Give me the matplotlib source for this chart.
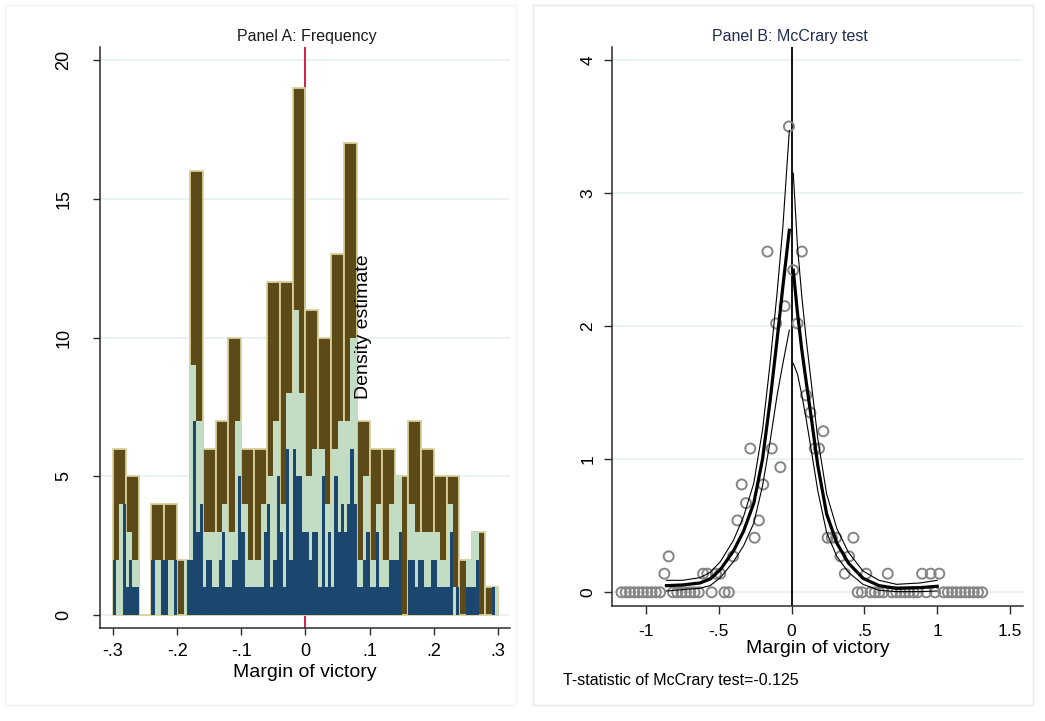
import matplotlib
matplotlib.use("Agg")
import matplotlib.pyplot as plt
import numpy as np
from matplotlib.patches import Rectangle

plt.rcParams['font.family'] = ['Liberation Sans', 'DejaVu Sans']

# Panel A: counts per fine bin (width 0.005 on [-0.3, 0.3])
fine_counts = [2, 0, 0, 4, 1, 2, 1, 1, 0, 0, 0, 0, 2, 0, 0, 2, 2, 0, 0, 2,
               0, 0, 0, 2, 2, 7, 3, 4, 1, 2, 2, 1, 1, 2, 3, 1, 1, 2, 2, 5,
               3, 1, 1, 1, 1, 1, 1, 3, 4, 1, 2, 5, 3, 1, 6, 2, 6, 5, 5, 3,
               3, 2, 3, 3, 1, 5, 1, 3, 1, 5, 3, 4, 3, 4, 6, 4, 1, 1, 2, 3,
               1, 1, 3, 1, 1, 1, 2, 2, 2, 3, 0, 0, 2, 2, 1, 2, 2, 1, 1, 2,
               2, 1, 1, 1, 1, 3, 0, 1, 0, 0, 1, 1, 1, 2, 0, 0, 0, 0, 1, 0]
margin_lo, margin_hi = -0.3, 0.3
bin_counts = [30, 60, 120]
bar_colors = ['#5c4a19', '#c2ddc3', '#1b466e']

# Panel B: McCrary bin heights and fitted densities
mc_mid = 0.011 + 0.0295 * np.arange(-40, 45)
mc_height = [0] * 10 + [0.14, 0.27] + [0] * 7 + [0.14, 0.14, 0, 0.14, 0.14, 0, 0,
             0.27, 0.54, 0.81, 0.67, 1.08, 0.41, 0.54, 0.81, 2.56, 1.08, 2.02, 0.94,
             2.15, 3.50,
             2.42, 2.02, 2.56, 1.48, 1.35, 1.08, 1.08, 1.21, 0.41, 0.41, 0.41, 0.27,
             0.14, 0.27, 0.41, 0, 0, 0.14, 0, 0, 0, 0, 0.14] + [0] * 7 + \
            [0.14, 0, 0.14, 0, 0.14] + [0] * 10

left_x = [-0.86, -0.75, -0.63, -0.56, -0.49, -0.40, -0.33, -0.26, -0.20, -0.15, -0.10, -0.06, -0.016]
left_fit = [0.05, 0.055, 0.07, 0.10, 0.17, 0.31, 0.46, 0.67, 1.00, 1.42, 1.90, 2.30, 2.72]
left_hi = [0.09, 0.09, 0.11, 0.15, 0.23, 0.39, 0.57, 0.82, 1.22, 1.70, 2.25, 2.75, 3.47]
left_lo = [0.01, 0.02, 0.03, 0.05, 0.11, 0.23, 0.35, 0.52, 0.80, 1.12, 1.48, 1.72, 1.97]

right_x = [0.011, 0.04, 0.07, 0.10, 0.13, 0.18, 0.24, 0.31, 0.39, 0.49, 0.60, 0.72, 0.88, 1.00]
right_fit = [2.42, 2.10, 1.82, 1.58, 1.35, 0.95, 0.59, 0.37, 0.22, 0.105, 0.05, 0.03, 0.035, 0.045]
right_hi = [3.15, 2.60, 2.22, 1.90, 1.62, 1.15, 0.74, 0.48, 0.30, 0.16, 0.09, 0.06, 0.07, 0.09]
right_lo = [1.72, 1.64, 1.48, 1.30, 1.10, 0.76, 0.45, 0.27, 0.15, 0.06, 0.015, 0.005, 0.005, 0.01]

t_stat = -0.125

W, H = 1045, 721
fig = plt.figure(figsize=(W / 100, H / 100), dpi=100)
fig.patch.set_facecolor('white')

def px(x0, y0, x1, y1):
    return [x0 / W, 1 - y1 / H, (x1 - x0) / W, (y1 - y0) / H]

grid_c = '#e8f0f2'
axis_c = '#2b2b2b'

# ---- Panel A
ax = fig.add_axes(px(100, 47, 510, 628))
fine_w = (margin_hi - margin_lo) / len(fine_counts)
fine_mid = margin_lo + fine_w * (np.arange(len(fine_counts)) + 0.5)
for n, col, z in zip(bin_counts, bar_colors, [2, 3, 4]):
    edges = np.linspace(margin_lo, margin_hi, n + 1)
    if n == 30:
        ax.hist(fine_mid, bins=edges, weights=fine_counts, color=col,
                edgecolor='#d9d09b', linewidth=1.3, zorder=z)
    else:
        ax.hist(fine_mid, bins=edges, weights=fine_counts, color=col,
                edgecolor='none', linewidth=0, zorder=z)
ax.axvline(0, color='#d0103a', lw=1.3, zorder=1.5)
ax.set_xlim(-0.3202, 0.3187)
ax.set_ylim(-0.468, 20.47)
ax.set_yticks([0, 5, 10, 15, 20])
ax.set_yticklabels(['0', '5', '10', '15', '20'], rotation=90, ha='center', va='center')
ax.set_xticks([-0.3, -0.2, -0.1, 0, 0.1, 0.2, 0.3])
ax.set_xticklabels(['-.3', '-.2', '-.1', '0', '.1', '.2', '.3'])
ax.grid(axis='y', color=grid_c, lw=1.2, zorder=0)
ax.set_axisbelow(True)
for s in ['top', 'right']:
    ax.spines[s].set_visible(False)
for s in ['left', 'bottom']:
    ax.spines[s].set_color(axis_c)
    ax.spines[s].set_linewidth(1.1)
ax.tick_params(axis='y', length=5, width=1, colors=axis_c, labelsize=13, pad=21, labelcolor='black')
ax.tick_params(axis='x', length=5, width=1, colors=axis_c, labelsize=13, pad=6, labelcolor='black')
ax.set_xlabel('Margin of victory', fontsize=14, labelpad=3)
fig.text(307 / W, 1 - 36 / H, 'Panel A: Frequency', ha='center', va='center', fontsize=11.5, color='#1a1a1a')
fig.text(363 / W, 1 - 327 / H, 'Density estimate', rotation=90, ha='center', va='center', fontsize=14)

# ---- Panel B
bx = fig.add_axes(px(611.7, 47, 1023, 605.7))
bx.scatter(mc_mid, mc_height, s=52, facecolors='none', edgecolors='#858585', linewidths=1.4, zorder=3)
bx.plot(left_x, left_fit, color='black', lw=2.3, zorder=4)
bx.plot(left_x, left_hi, color='black', lw=0.8, zorder=4)
bx.plot(left_x, left_lo, color='black', lw=0.8, zorder=4)
bx.plot(right_x, right_fit, color='black', lw=2.3, zorder=4)
bx.plot(right_x, right_hi, color='black', lw=0.8, zorder=4)
bx.plot(right_x, right_lo, color='black', lw=0.8, zorder=4)
bx.axvline(0, color='black', lw=1.3, zorder=2)
bx.set_xlim(-1.236, 1.589)
bx.set_ylim(-0.1007, 4.097)
bx.set_yticks([0, 1, 2, 3, 4])
bx.set_yticklabels(['0', '1', '2', '3', '4'], rotation=90, ha='center', va='center')
bx.set_xticks([-1, -0.5, 0, 0.5, 1, 1.5])
bx.set_xticklabels(['-1', '-.5', '0', '.5', '1', '1.5'])
bx.grid(axis='y', color=grid_c, lw=1.2, zorder=0)
bx.set_axisbelow(True)
for s in ['top', 'right']:
    bx.spines[s].set_visible(False)
for s in ['left', 'bottom']:
    bx.spines[s].set_color(axis_c)
    bx.spines[s].set_linewidth(1.1)
bx.tick_params(axis='y', length=6, width=1, colors=axis_c, labelsize=12.5, pad=11, labelcolor='black')
bx.tick_params(axis='x', length=6, width=1, colors=axis_c, labelsize=12.5, pad=7, labelcolor='black')
bx.set_xlabel('Margin of victory', fontsize=14, labelpad=1)
fig.text(790 / W, 1 - 36 / H, 'Panel B: McCrary test', ha='center', va='center', fontsize=11.5, color='#1f2d50')
fig.text(563 / W, 1 - 681 / H, 'T-statistic of McCrary test=%.3f' % t_stat, ha='left', va='center', fontsize=11.5)

# panel frames
for (x0, y0, x1, y1), ec in [((5, 5, 516, 705), '#f1f4f6'), ((533, 5, 1033, 705), '#e3eaee')]:
    fig.add_artist(Rectangle((x0 / W, 1 - y1 / H), (x1 - x0) / W, (y1 - y0) / H,
                             transform=fig.transFigure, fill=False, ec=ec, lw=1))

fig.savefig('out.png', dpi=100)
